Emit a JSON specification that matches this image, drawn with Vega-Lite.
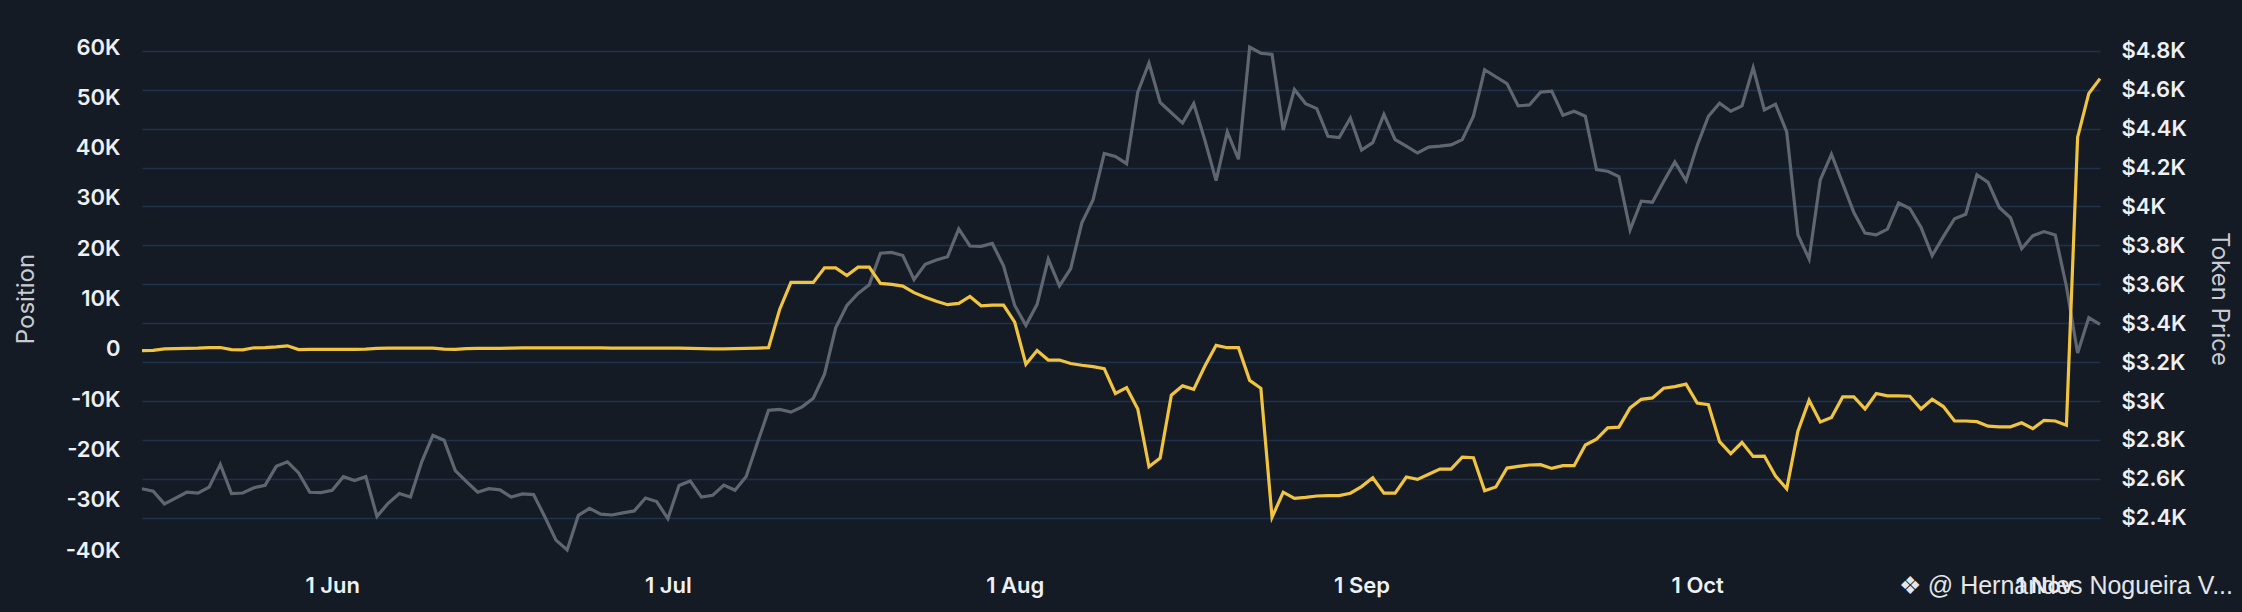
{
  "$schema": "https://vega.github.io/schema/vega-lite/v6.json",
  "width": 1958,
  "height": 503,
  "autosize": {"type": "none"},
  "padding": {"left": 142, "top": 47, "right": 142, "bottom": 62},
  "background": "#141b25",
  "config": {"view": {"stroke": null}, "font": "Inter"},
  "title": {
    "text": "❖ @ Hernandes Nogueira V...",
    "orient": "bottom",
    "anchor": "end",
    "frame": "group",
    "dx": 133,
    "offset": -22,
    "font": "Liberation Sans",
    "fontSize": 25,
    "fontWeight": "normal",
    "color": "#e4e6e9"
  },
  "data": {
    "values": [
      {"d": "2025-05-15", "p": -350, "t": 2549},
      {"d": "2025-05-16", "p": -300, "t": 2536},
      {"d": "2025-05-17", "p": 0, "t": 2471},
      {"d": "2025-05-18", "p": 50, "t": 2501},
      {"d": "2025-05-19", "p": 100, "t": 2531},
      {"d": "2025-05-20", "p": 150, "t": 2526},
      {"d": "2025-05-21", "p": 250, "t": 2557},
      {"d": "2025-05-22", "p": 250, "t": 2674},
      {"d": "2025-05-23", "p": -150, "t": 2524},
      {"d": "2025-05-24", "p": -200, "t": 2527},
      {"d": "2025-05-25", "p": 200, "t": 2554},
      {"d": "2025-05-26", "p": 250, "t": 2566},
      {"d": "2025-05-27", "p": 400, "t": 2664},
      {"d": "2025-05-28", "p": 600, "t": 2687},
      {"d": "2025-05-29", "p": -150, "t": 2630},
      {"d": "2025-05-30", "p": -100, "t": 2531},
      {"d": "2025-05-31", "p": -100, "t": 2529},
      {"d": "2025-06-01", "p": -100, "t": 2541},
      {"d": "2025-06-02", "p": -100, "t": 2611},
      {"d": "2025-06-03", "p": -100, "t": 2591},
      {"d": "2025-06-04", "p": -50, "t": 2611},
      {"d": "2025-06-05", "p": 100, "t": 2407},
      {"d": "2025-06-06", "p": 150, "t": 2474},
      {"d": "2025-06-07", "p": 150, "t": 2524},
      {"d": "2025-06-08", "p": 150, "t": 2506},
      {"d": "2025-06-09", "p": 150, "t": 2687},
      {"d": "2025-06-10", "p": 150, "t": 2823},
      {"d": "2025-06-11", "p": -50, "t": 2798},
      {"d": "2025-06-12", "p": -100, "t": 2642},
      {"d": "2025-06-13", "p": 50, "t": 2586},
      {"d": "2025-06-14", "p": 100, "t": 2531},
      {"d": "2025-06-15", "p": 100, "t": 2549},
      {"d": "2025-06-16", "p": 100, "t": 2543},
      {"d": "2025-06-17", "p": 150, "t": 2506},
      {"d": "2025-06-18", "p": 200, "t": 2522},
      {"d": "2025-06-19", "p": 200, "t": 2519},
      {"d": "2025-06-20", "p": 200, "t": 2405},
      {"d": "2025-06-21", "p": 200, "t": 2285},
      {"d": "2025-06-22", "p": 200, "t": 2234},
      {"d": "2025-06-23", "p": 200, "t": 2412},
      {"d": "2025-06-24", "p": 200, "t": 2448},
      {"d": "2025-06-25", "p": 200, "t": 2418},
      {"d": "2025-06-26", "p": 150, "t": 2414},
      {"d": "2025-06-27", "p": 150, "t": 2425},
      {"d": "2025-06-28", "p": 150, "t": 2435},
      {"d": "2025-06-29", "p": 150, "t": 2501},
      {"d": "2025-06-30", "p": 150, "t": 2483},
      {"d": "2025-07-01", "p": 150, "t": 2395},
      {"d": "2025-07-02", "p": 150, "t": 2566},
      {"d": "2025-07-03", "p": 100, "t": 2589},
      {"d": "2025-07-04", "p": 50, "t": 2506},
      {"d": "2025-07-05", "p": 0, "t": 2515},
      {"d": "2025-07-06", "p": 0, "t": 2568},
      {"d": "2025-07-07", "p": 50, "t": 2541},
      {"d": "2025-07-08", "p": 100, "t": 2612},
      {"d": "2025-07-09", "p": 150, "t": 2784},
      {"d": "2025-07-10", "p": 200, "t": 2952},
      {"d": "2025-07-11", "p": 7880, "t": 2957},
      {"d": "2025-07-12", "p": 13200, "t": 2943},
      {"d": "2025-07-13", "p": 13200, "t": 2970},
      {"d": "2025-07-14", "p": 13200, "t": 3014},
      {"d": "2025-07-15", "p": 16090, "t": 3138},
      {"d": "2025-07-16", "p": 16090, "t": 3376},
      {"d": "2025-07-17", "p": 14580, "t": 3491},
      {"d": "2025-07-18", "p": 16220, "t": 3553},
      {"d": "2025-07-19", "p": 16220, "t": 3597},
      {"d": "2025-07-20", "p": 13010, "t": 3760},
      {"d": "2025-07-21", "p": 12800, "t": 3764},
      {"d": "2025-07-22", "p": 12460, "t": 3748},
      {"d": "2025-07-23", "p": 11160, "t": 3624},
      {"d": "2025-07-24", "p": 10270, "t": 3703},
      {"d": "2025-07-25", "p": 9450, "t": 3725},
      {"d": "2025-07-26", "p": 8770, "t": 3742},
      {"d": "2025-07-27", "p": 9040, "t": 3885},
      {"d": "2025-07-28", "p": 10410, "t": 3797},
      {"d": "2025-07-29", "p": 8560, "t": 3795},
      {"d": "2025-07-30", "p": 8700, "t": 3810},
      {"d": "2025-07-31", "p": 8700, "t": 3695},
      {"d": "2025-08-01", "p": 5280, "t": 3491},
      {"d": "2025-08-02", "p": -3060, "t": 3389},
      {"d": "2025-08-03", "p": -330, "t": 3497},
      {"d": "2025-08-04", "p": -2240, "t": 3730},
      {"d": "2025-08-05", "p": -2240, "t": 3592},
      {"d": "2025-08-06", "p": -2930, "t": 3680},
      {"d": "2025-08-07", "p": -3270, "t": 3916},
      {"d": "2025-08-08", "p": -3540, "t": 4034},
      {"d": "2025-08-09", "p": -3950, "t": 4273},
      {"d": "2025-08-10", "p": -8880, "t": 4257},
      {"d": "2025-08-11", "p": -7720, "t": 4220},
      {"d": "2025-08-12", "p": -11960, "t": 4588},
      {"d": "2025-08-13", "p": -23440, "t": 4738},
      {"d": "2025-08-14", "p": -21730, "t": 4535},
      {"d": "2025-08-15", "p": -9220, "t": 4482},
      {"d": "2025-08-16", "p": -7370, "t": 4429},
      {"d": "2025-08-17", "p": -8060, "t": 4529},
      {"d": "2025-08-18", "p": -3410, "t": 4340},
      {"d": "2025-08-19", "p": 690, "t": 4133},
      {"d": "2025-08-20", "p": 220, "t": 4384},
      {"d": "2025-08-21", "p": 220, "t": 4243},
      {"d": "2025-08-22", "p": -6280, "t": 4820},
      {"d": "2025-08-23", "p": -7850, "t": 4788},
      {"d": "2025-08-24", "p": -33500, "t": 4782},
      {"d": "2025-08-25", "p": -28510, "t": 4393},
      {"d": "2025-08-26", "p": -29740, "t": 4602},
      {"d": "2025-08-27", "p": -29530, "t": 4529},
      {"d": "2025-08-28", "p": -29260, "t": 4503},
      {"d": "2025-08-29", "p": -29190, "t": 4361},
      {"d": "2025-08-30", "p": -29190, "t": 4354},
      {"d": "2025-08-31", "p": -28710, "t": 4455},
      {"d": "2025-09-01", "p": -27400, "t": 4290},
      {"d": "2025-09-02", "p": -25630, "t": 4328},
      {"d": "2025-09-03", "p": -28710, "t": 4473},
      {"d": "2025-09-04", "p": -28710, "t": 4344},
      {"d": "2025-09-05", "p": -25490, "t": 4310},
      {"d": "2025-09-06", "p": -25970, "t": 4275},
      {"d": "2025-09-07", "p": -24940, "t": 4305},
      {"d": "2025-09-08", "p": -23920, "t": 4310},
      {"d": "2025-09-09", "p": -23920, "t": 4317},
      {"d": "2025-09-10", "p": -21530, "t": 4344},
      {"d": "2025-09-11", "p": -21660, "t": 4464},
      {"d": "2025-09-12", "p": -28230, "t": 4703},
      {"d": "2025-09-13", "p": -27480, "t": 4667},
      {"d": "2025-09-14", "p": -23710, "t": 4632},
      {"d": "2025-09-15", "p": -23370, "t": 4517},
      {"d": "2025-09-16", "p": -23100, "t": 4522},
      {"d": "2025-09-17", "p": -23030, "t": 4588},
      {"d": "2025-09-18", "p": -23780, "t": 4593},
      {"d": "2025-09-19", "p": -23240, "t": 4469},
      {"d": "2025-09-20", "p": -23240, "t": 4490},
      {"d": "2025-09-21", "p": -19130, "t": 4464},
      {"d": "2025-09-22", "p": -17970, "t": 4190},
      {"d": "2025-09-23", "p": -15710, "t": 4181},
      {"d": "2025-09-24", "p": -15580, "t": 4154},
      {"d": "2025-09-25", "p": -11750, "t": 3880},
      {"d": "2025-09-26", "p": -10040, "t": 4027},
      {"d": "2025-09-27", "p": -9770, "t": 4022},
      {"d": "2025-09-28", "p": -7850, "t": 4128},
      {"d": "2025-09-29", "p": -7510, "t": 4229},
      {"d": "2025-09-30", "p": -7030, "t": 4133},
      {"d": "2025-10-01", "p": -10790, "t": 4314},
      {"d": "2025-10-02", "p": -11130, "t": 4464},
      {"d": "2025-10-03", "p": -18450, "t": 4531},
      {"d": "2025-10-04", "p": -20850, "t": 4490},
      {"d": "2025-10-05", "p": -18630, "t": 4517},
      {"d": "2025-10-06", "p": -21390, "t": 4714},
      {"d": "2025-10-07", "p": -21330, "t": 4496},
      {"d": "2025-10-08", "p": -25290, "t": 4526},
      {"d": "2025-10-09", "p": -27820, "t": 4384},
      {"d": "2025-10-10", "p": -16390, "t": 3854},
      {"d": "2025-10-11", "p": -10230, "t": 3730},
      {"d": "2025-10-12", "p": -14540, "t": 4137},
      {"d": "2025-10-13", "p": -13650, "t": 4269},
      {"d": "2025-10-14", "p": -9560, "t": 4119},
      {"d": "2025-10-15", "p": -9560, "t": 3969},
      {"d": "2025-10-16", "p": -11950, "t": 3863},
      {"d": "2025-10-17", "p": -8880, "t": 3854},
      {"d": "2025-10-18", "p": -9360, "t": 3884},
      {"d": "2025-10-19", "p": -9360, "t": 4018},
      {"d": "2025-10-20", "p": -9430, "t": 3990},
      {"d": "2025-10-21", "p": -11950, "t": 3894},
      {"d": "2025-10-22", "p": -10040, "t": 3748},
      {"d": "2025-10-23", "p": -11480, "t": 3845},
      {"d": "2025-10-24", "p": -14350, "t": 3937},
      {"d": "2025-10-25", "p": -14350, "t": 3960},
      {"d": "2025-10-26", "p": -14490, "t": 4163},
      {"d": "2025-10-27", "p": -15380, "t": 4124},
      {"d": "2025-10-28", "p": -15520, "t": 3995},
      {"d": "2025-10-29", "p": -15520, "t": 3942},
      {"d": "2025-10-30", "p": -14700, "t": 3783},
      {"d": "2025-10-31", "p": -15860, "t": 3850},
      {"d": "2025-11-01", "p": -14220, "t": 3871},
      {"d": "2025-11-02", "p": -14350, "t": 3854},
      {"d": "2025-11-03", "p": -15180, "t": 3589},
      {"d": "2025-11-04", "p": 42080, "t": 3247},
      {"d": "2025-11-05", "p": 50770, "t": 3429},
      {"d": "2025-11-06", "p": 53710, "t": 3394}
    ]
  },
  "encoding": {
    "x": {
      "field": "d",
      "type": "temporal",
      "scale": {"type": "utc", "nice": false},
      "axis": {
        "title": null,
        "format": "%-d %b",
        "tickCount": "month",
        "grid": false,
        "domain": false,
        "ticks": false,
        "labelPadding": 25,
        "labelFontSize": 22,
        "labelFontWeight": 600,
        "labelColor": "#eef0f3",
        "labelFlush": false
      }
    }
  },
  "layer": [
    {
      "mark": {"type": "line", "color": "#5f6670", "strokeWidth": 3.2, "strokeJoin": "miter"},
      "encoding": {
        "y": {
          "field": "t",
          "type": "quantitative",
          "scale": {"zero": false, "nice": false},
          "axis": {
            "orient": "right",
            "title": "Token Price",
            "values": [2400, 2600, 2800, 3000, 3200, 3400, 3600, 3800, 4000, 4200, 4400, 4600, 4800],
            "labelExpr": "'$' + format(datum.value / 1000, '~g') + 'K'",
            "grid": true,
            "gridColor": "#1f324c",
            "gridWidth": 1.5,
            "domain": false,
            "ticks": false,
            "labelPadding": 21,
            "labelFontSize": 22,
            "labelFontWeight": 600,
            "labelColor": "#eef0f3",
            "titleFontSize": 24,
            "titleFontWeight": "normal",
            "titleColor": "#c8ccd1",
            "titlePadding": 20
          }
        }
      }
    },
    {
      "mark": {"type": "line", "color": "#f0c341", "strokeWidth": 3.2, "strokeJoin": "miter"},
      "encoding": {
        "y": {
          "field": "p",
          "type": "quantitative",
          "scale": {"domain": [-40000, 60000]},
          "axis": {
            "orient": "left",
            "title": "Position",
            "values": [-40000, -30000, -20000, -10000, 0, 10000, 20000, 30000, 40000, 50000, 60000],
            "labelExpr": "datum.value == 0 ? '0' : (datum.value / 1000) + 'K'",
            "grid": false,
            "domain": false,
            "ticks": false,
            "labelPadding": 22,
            "labelFontSize": 22,
            "labelFontWeight": 600,
            "labelColor": "#eef0f3",
            "titleFontSize": 24,
            "titleFontWeight": "normal",
            "titleColor": "#c8ccd1",
            "titlePadding": 27
          }
        }
      }
    }
  ],
  "resolve": {"scale": {"y": "independent"}}
}
